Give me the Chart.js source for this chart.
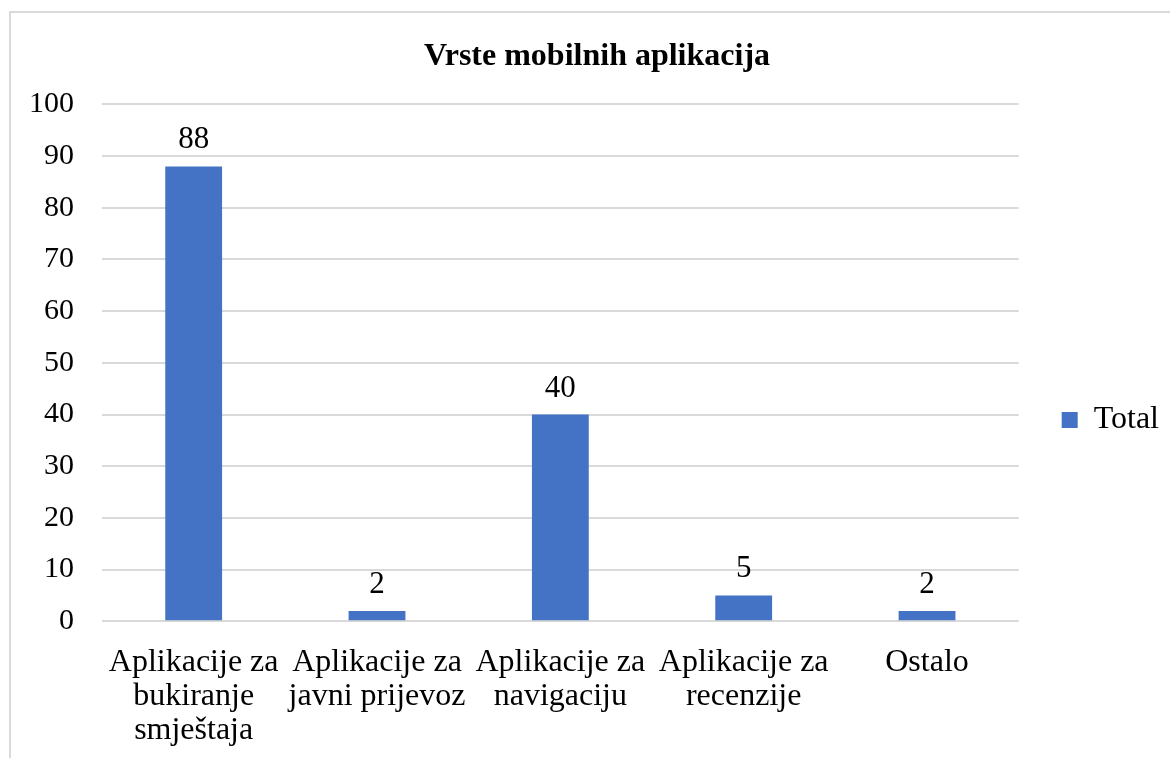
<!DOCTYPE html>
<html>
<head>
<meta charset="utf-8">
<script src="https://cdn.jsdelivr.net/npm/chart.js@4"></script>
<style>
  html, body { margin: 0; padding: 0; background: #fff; overflow: hidden; }
  #wrap {
    position: absolute; left: 9px; top: 11px;
    width: 1182px; height: 751px;
    border-left: 2px solid #d9d9d9; border-top: 2px solid #d9d9d9;
  }
</style>
</head>
<body>
<div id="wrap"><canvas id="appsChart"></canvas></div>
<script>
const categories = [
    ["Aplikacije za", "bukiranje", "smještaja"],
    ["Aplikacije za", "javni prijevoz"],
    ["Aplikacije za", "navigaciju"],
    ["Aplikacije za", "recenzije"],
    ["Ostalo"],
];
const totals = [88, 2, 40, 5, 2];

const serif = "'Liberation Serif', 'Times New Roman', serif";

// draws the number above each bar
const valueLabels = {
    id: "valueLabels",
    afterDatasetsDraw(chart) {
        const ctx = chart.ctx;
        ctx.save();
        ctx.font = "31px " + serif;
        ctx.fillStyle = "#000";
        ctx.textAlign = "center";
        ctx.textBaseline = "alphabetic";
        chart.getDatasetMeta(0).data.forEach((bar, i) => {
            ctx.fillText(totals[i], bar.x, bar.y - 18);
        });
        ctx.restore();
    },
};

new Chart(document.getElementById("appsChart"), {
    type: "bar",
    data: {
        labels: categories,
        datasets: [
            { label: "Total", data: totals, backgroundColor: "#4472C4", barPercentage: 0.62, categoryPercentage: 0.5 },
        ],
    },
    options: {
        responsive: true,
        maintainAspectRatio: false,
        animation: false,
        layout: { padding: { left: -10, right: 0, top: 25, bottom: 0 } },
        plugins: {
            title: {
                display: true,
                text: "Vrste mobilnih aplikacija",
                color: "#000",
                font: { family: serif, size: 32, weight: "bold" },
                padding: { top: 0, bottom: 28 },
            },
            legend: {
                position: "right",
                // empty title only pushes the single item down a bit
                title: { display: true, text: " ", font: { size: 10 }, padding: { top: 13, bottom: 13 } },
                labels: {
                    color: "#000",
                    font: { family: serif, size: 32 },
                    boxWidth: 16,
                    boxHeight: 16,
                    padding: 43,
                    // trailing spaces widen the legend box so the title stays centred
                    generateLabels: (chart) =>
                        Chart.defaults.plugins.legend.labels.generateLabels(chart).map((l) => ({ ...l, text: l.text + "   " })),
                },
            },
            tooltip: { enabled: false },
        },
        scales: {
            x: {
                grid: { display: false },
                border: { display: false },
                ticks: {
                    color: "#000",
                    font: { family: serif, size: 32, lineHeight: 1.07 },
                    maxRotation: 0,
                    autoSkip: false,
                    padding: 16,
                },
            },
            y: {
                min: 0,
                max: 100,
                grid: { color: "#d9d9d9", lineWidth: 2, drawTicks: false },
                border: { display: false },
                ticks: {
                    stepSize: 10,
                    color: "#000",
                    font: { family: serif, size: 30 },
                    padding: 28,
                },
            },
        },
    },
    plugins: [valueLabels],
});
</script>
</body>
</html>
